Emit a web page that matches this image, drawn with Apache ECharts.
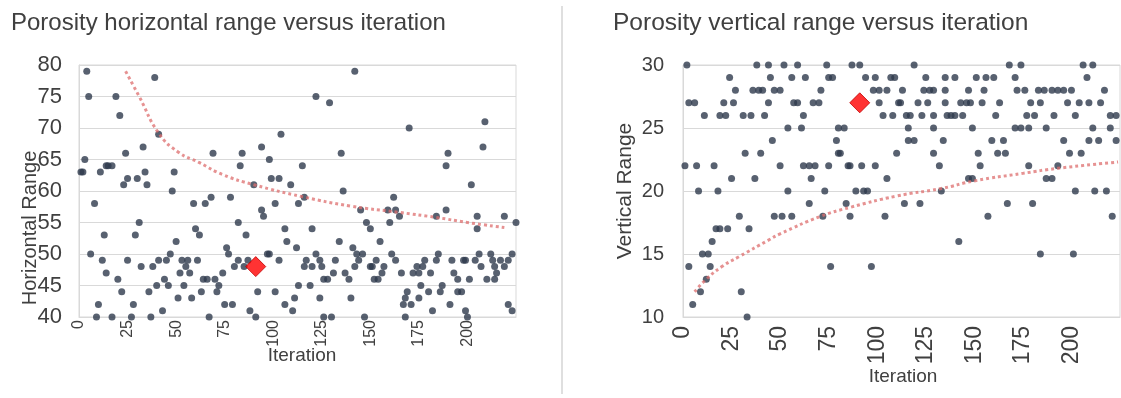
<!DOCTYPE html>
<html>
<head>
<meta charset="utf-8">
<script src="https://cdn.jsdelivr.net/npm/echarts@6/dist/echarts.min.js"></script>
<style>
  html, body { margin: 0; padding: 0; background: #ffffff; }
  #chart { width: 1121px; height: 398px; }
</style>
</head>
<body>
<div id="chart"></div>
<script>
// Porosity search history: one point per iteration for each range parameter.
const iterationTicks = [0, 25, 50, 75, 100, 125, 150, 175, 200];
const iterationMax = 225;

// [iteration, horizontal range]
const horizontalPoints = [
  [1,63],[2,63],[3,65],[4,79],[5,75],[6,50],[8,58],[9,40],[10,42],[11,63],[12,49],[13,53],[14,47],[14,64],
  [15,64],[17,64],[17,40],[19,75],[20,46],[21,72],[22,44],[23,61],[24,66],[25,49],[25,62],[27,40],[28,42],
  [29,53],[30,62],[31,55],[32,48],[33,67],[34,63],[35,61],[36,44],[37,40],[38,48],[39,78],[40,45],[41,69],
  [41,49],[43,41],[44,46],[45,49],[46,45],[47,50],[48,60],[49,63],[50,52],[51,43],[52,47],[53,49],[54,45],
  [55,48],[56,49],[57,47],[58,43],[59,58],[60,54],[61,49],[62,53],[63,44],[64,46],[65,58],[66,46],[67,40],
  [68,59],[69,66],[70,46],[71,44],[72,45],[74,47],[75,42],[76,51],[77,50],[78,59],[79,42],[80,48],[82,49],
  [82,55],[83,64],[84,66],[85,48],[86,53],[87,49],[88,41],[90,61],[91,40],[92,44],[94,67],[94,57],[95,56],
  [97,50],[98,65],[98,50],[99,62],[101,44],[101,58],[103,62],[103,49],[104,69],[106,42],[106,54],[107,52],
  [109,61],[110,41],[111,43],[112,51],[113,45],[113,58],[115,64],[116,59],[116,48],[117,49],[119,45],[120,54],
  [120,48],[122,75],[122,50],[124,49],[124,43],[125,48],[126,46],[126,40],[128,46],[129,74],[130,40],[131,47],
  [132,49],[134,52],[135,66],[136,60],[137,47],[139,46],[140,43],[141,51],[142,79],[142,48],[143,50],[144,49],
  [145,57],[146,50],[147,40],[148,55],[150,54],[150,48],[151,48],[152,46],[153,49],[154,46],[155,52],[156,47],
  [157,48],[159,57],[160,55],[161,50],[162,59],[163,49],[163,57],[165,56],[166,47],[167,42],[168,43],[168,40],
  [169,44],[170,70],[171,42],[172,47],[174,48],[175,43],[175,47],[176,45],[177,48],[178,49],[180,44],[181,47],
  [182,41],[184,56],[184,49],[185,50],[186,44],[187,45],[189,57],[189,64],[190,66],[191,42],[192,49],[193,47],
  [195,46],[195,44],[197,44],[198,49],[199,49],[199,41],[200,40],[201,46],[202,61],[204,49],[205,56],[205,54],
  [206,50],[207,48],[208,67],[209,71],[210,46],[212,50],[213,49],[214,48],[215,47],[214,46],[217,49],[219,48],
  [219,56],[221,49],[221,42],[223,50],[223,41],[225,55]
];

// [iteration, vertical range]
const verticalPoints = [
  [2,30],[38,30],[44,30],[52,30],[59,30],[74,30],[87,30],[91,30],[119,30],[168,30],[174,30],[206,30],[211,30],
  [24,29],[45,29],[56,29],[63,29],[75,29],[77,29],[94,29],[99,29],[107,29],[109,29],[125,29],[135,29],[140,29],
  [151,29],[156,29],[160,29],[171,29],[208,29],
  [27,28],[36,28],[39,28],[41,28],[47,28],[50,28],[71,28],[98,28],[101,28],[105,28],[113,28],[124,28],[127,28],
  [129,28],[135,28],[147,28],[155,28],[172,28],[176,28],[183,28],[186,28],[190,28],[193,28],[196,28],[200,28],[217,28],
  [3,27],[6,27],[21,27],[26,27],[44,27],[57,27],[59,27],[67,27],[70,27],[101,27],[111,27],[112,27],[121,27],
  [126,27],[135,27],[143,27],[146,27],[148,27],[154,27],[163,27],[179,27],[184,27],[198,27],[204,27],[209,27],[215,27],
  [11,26],[19,26],[22,26],[31,26],[35,26],[42,26],[62,26],[103,26],[108,26],[115,26],[117,26],[123,26],[129,26],
  [136,26],[138,26],[140,26],[144,26],[161,26],[177,26],[181,26],[191,26],[202,26],[220,26],[223,26],
  [54,25],[61,25],[80,25],[83,25],[116,25],[129,25],[149,25],[171,25],[174,25],[178,25],[187,25],[211,25],[220,25],
  [46,24],[79,24],[116,24],[119,24],[134,24],[159,24],[165,24],[196,24],[209,24],[214,24],[223,24],
  [32,23],[40,23],[80,23],[81,23],[110,23],[129,23],[152,23],[162,23],[166,23],[199,23],[205,23],
  [1,22],[7,22],[16,22],[50,22],[62,22],[65,22],[68,22],[75,22],[85,22],[86,22],[92,22],[99,22],[132,22],
  [153,22],[178,22],[193,22],
  [25,21],[37,21],[66,21],[105,21],[147,21],[149,21],[187,21],[190,21],
  [8,20],[18,20],[54,20],[73,20],[89,20],[93,20],[95,20],[133,20],[202,20],[212,20],[218,20],
  [65,19],[84,19],[114,19],[122,19],[167,19],[180,19],
  [29,18],[47,18],[51,18],[56,18],[72,18],[86,18],[104,18],[157,18],[221,18],
  [17,17],[19,17],[23,17],[34,17],
  [15,16],[142,16],
  [10,15],[13,15],[184,15],[201,15],
  [3,14],[14,14],[76,14],[97,14],
  [12,13],[9,12],[30,12],[5,11],[33,10]
];

// Best iteration found by the search
const bestHorizontal = [[91, 48]];
const bestVertical = [[91, 27]];

// Trend curves traced along each cloud
const horizontalTrend = [
  [24,79],[31,75],[41,69.2],[51,66.2],[62,64.5],[74,62.6],[90,61],[115,59.1],[140,57.6],
  [165,56.6],[184,55.8],[200,55],[219,54.2]
];
const verticalTrend = [
  [6,12],[12,13],[20,14],[29,14.8],[44,16.1],[50,16.6],[71,18],[86,18.7],[110,19.6],[133,20.2],
  [150,20.8],[175,21.4],[193,21.8],[224,22.3]
];

const horizontalTicks = [40, 45, 50, 55, 60, 65, 70, 75, 80];
const verticalTicks = [10, 15, 20, 25, 30];

const FONT = 'Liberation Sans, Arial, sans-serif';
const TEXT = '#404040';
const GRID_LINE = '#d9d9d9';
const DOT = '#2e3a4c';

function xAxisFor(gridIndex, fontSize, margin) {
  return {
    gridIndex: gridIndex,
    type: 'value',
    min: iterationTicks[0],
    max: iterationMax,
    interval: iterationTicks[1] - iterationTicks[0],
    axisLine: { show: true, lineStyle: { color: GRID_LINE, width: 1 } },
    axisTick: { show: false },
    splitLine: { show: false },
    axisLabel: {
      rotate: 90, margin: margin, color: TEXT, fontFamily: FONT, fontSize: fontSize,
      showMaxLabel: false,
      formatter: v => (iterationTicks.indexOf(v) >= 0 ? String(v) : '')
    }
  };
}

function yAxisFor(gridIndex, ticks, fontSize, margin) {
  return {
    gridIndex: gridIndex,
    type: 'value',
    min: ticks[0],
    max: ticks[ticks.length - 1],
    interval: ticks[1] - ticks[0],
    axisLine: { show: true, lineStyle: { color: GRID_LINE, width: 1 } },
    axisTick: { show: false },
    splitLine: { show: true, lineStyle: { color: GRID_LINE, width: 1 } },
    axisLabel: { margin: margin, color: TEXT, fontFamily: FONT, fontSize: fontSize }
  };
}

function cloud(idx, data) {
  return {
    type: 'scatter', xAxisIndex: idx, yAxisIndex: idx, data: data,
    symbol: 'circle', symbolSize: 7, itemStyle: { color: DOT }, silent: true, z: 2
  };
}

function trend(idx, data) {
  return {
    type: 'line', xAxisIndex: idx, yAxisIndex: idx, data: data, smooth: true,
    symbol: 'none', silent: true, z: 3,
    lineStyle: { color: 'rgba(222, 110, 110, 0.75)', width: 3, type: [3, 3], cap: 'butt' }
  };
}

function best(idx, data) {
  return {
    type: 'scatter', xAxisIndex: idx, yAxisIndex: idx, data: data,
    symbol: 'diamond', symbolSize: [20, 20], silent: true, z: 4,
    itemStyle: { color: '#ff0000', borderColor: '#c00000', borderWidth: 1 }
  };
}

const chart = echarts.init(document.getElementById('chart'), null, { renderer: 'canvas' });
chart.setOption({
  animation: false,
  backgroundColor: '#ffffff',
  title: [
    { text: 'Porosity horizontal range versus iteration', left: 6, top: 6,
      textStyle: { fontFamily: FONT, fontSize: 24, fontWeight: 'normal', color: TEXT } },
    { text: 'Porosity vertical range versus iteration', left: 608, top: 6,
      textStyle: { fontFamily: FONT, fontSize: 24.5, fontWeight: 'normal', color: TEXT } }
  ],
  grid: [
    { left: 79, top: 65, width: 437, height: 252, show: true, borderColor: GRID_LINE, borderWidth: 1 },
    { left: 683, top: 65, width: 437, height: 252, show: true, borderColor: GRID_LINE, borderWidth: 1 }
  ],
  xAxis: [xAxisFor(0, 16, 3), xAxisFor(1, 23, 9)],
  yAxis: [yAxisFor(0, horizontalTicks, 22, 17), yAxisFor(1, verticalTicks, 20, 19)],
  series: [
    cloud(0, horizontalPoints), trend(0, horizontalTrend), best(0, bestHorizontal),
    cloud(1, verticalPoints), trend(1, verticalTrend), best(1, bestVertical)
  ],
  graphic: [
    { type: 'line', shape: { x1: 562, y1: 6, x2: 562, y2: 394 }, style: { stroke: '#bfbfbf', lineWidth: 1 } },
    { type: 'text', x: 30, y: 228, rotation: Math.PI / 2, style: {
        text: 'Horizontal Range', fontFamily: FONT, fontSize: 20, fill: TEXT, align: 'center', verticalAlign: 'middle' } },
    { type: 'text', x: 302, y: 356, style: {
        text: 'Iteration', fontFamily: FONT, fontSize: 19, fill: TEXT, align: 'center', verticalAlign: 'middle' } },
    { type: 'text', x: 625, y: 191, rotation: Math.PI / 2, style: {
        text: 'Vertical Range', fontFamily: FONT, fontSize: 21, fill: TEXT, align: 'center', verticalAlign: 'middle' } },
    { type: 'text', x: 903, y: 377, style: {
        text: 'Iteration', fontFamily: FONT, fontSize: 19, fill: TEXT, align: 'center', verticalAlign: 'middle' } }
  ]
});
</script>
</body>
</html>
